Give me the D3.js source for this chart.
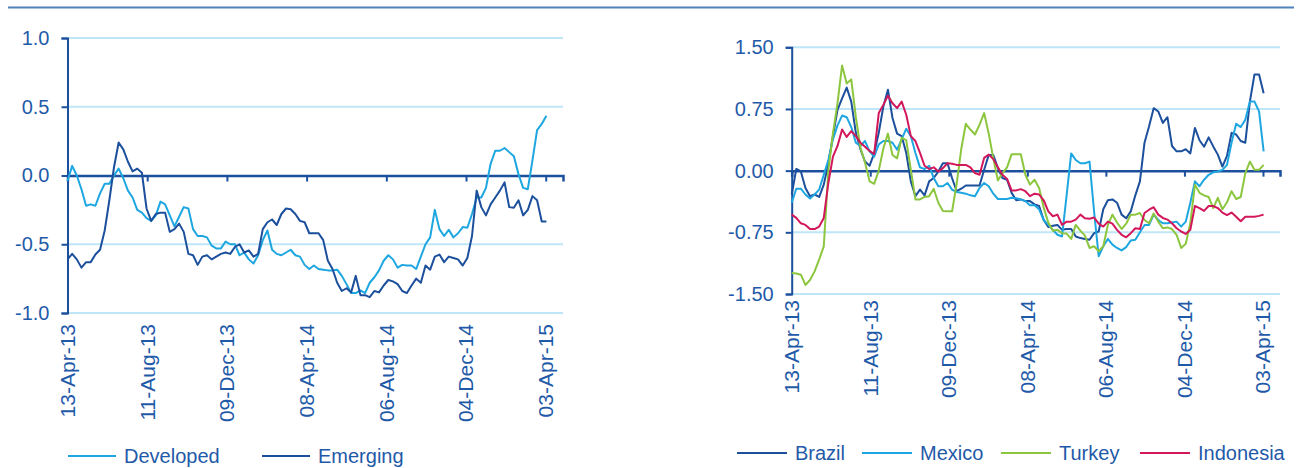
<!DOCTYPE html>
<html>
<head>
<meta charset="utf-8">
<script src="https://cdn.jsdelivr.net/npm/d3@7"></script>
<style>
body{margin:0;background:#fff;}
text{font-family:Arial,"Liberation Sans",sans-serif;fill:#1f5aa8;}
</style>
</head>
<body>
<svg id="chart" width="1301" height="468"></svg>
<script>
// weekly observations, first one on 13-Apr-13
var firstWeek = "13-Apr-13";
var dateTicks = ["13-Apr-13","11-Aug-13","09-Dec-13","08-Apr-14","06-Aug-14","04-Dec-14","03-Apr-15"];

var developed = [-0.04,0.07,0.00,-0.10,-0.22,-0.21,-0.22,-0.13,-0.06,-0.06,0.00,0.05,-0.02,-0.11,-0.16,-0.25,-0.27,-0.31,-0.33,-0.29,
  -0.19,-0.21,-0.29,-0.37,-0.30,-0.23,-0.24,-0.39,-0.44,-0.44,-0.45,-0.51,-0.53,-0.53,-0.48,-0.50,-0.50,-0.58,-0.56,-0.61,
  -0.64,-0.58,-0.47,-0.40,-0.54,-0.57,-0.58,-0.56,-0.54,-0.58,-0.59,-0.65,-0.68,-0.655,-0.68,-0.685,-0.69,-0.69,-0.685,-0.73,
  -0.79,-0.855,-0.855,-0.835,-0.855,-0.78,-0.74,-0.69,-0.62,-0.58,-0.61,-0.67,-0.65,-0.655,-0.655,-0.68,-0.59,-0.50,-0.45,-0.25,
  -0.39,-0.44,-0.395,-0.45,-0.42,-0.375,-0.38,-0.28,-0.16,-0.16,-0.09,0.085,0.18,0.18,0.20,0.17,0.14,0.01,-0.09,-0.10,
  0.11,0.33,0.375,0.435];
var emerging = [-0.61,-0.57,-0.61,-0.67,-0.63,-0.63,-0.575,-0.54,-0.40,-0.18,0.06,0.24,0.19,0.10,0.03,0.05,0.02,-0.24,-0.33,-0.28,
  -0.27,-0.27,-0.41,-0.39,-0.35,-0.41,-0.57,-0.58,-0.65,-0.59,-0.58,-0.61,-0.59,-0.57,-0.56,-0.57,-0.52,-0.50,-0.56,-0.545,
  -0.59,-0.57,-0.39,-0.34,-0.32,-0.36,-0.28,-0.24,-0.245,-0.28,-0.33,-0.34,-0.42,-0.42,-0.42,-0.47,-0.62,-0.68,-0.78,-0.84,
  -0.82,-0.85,-0.73,-0.87,-0.87,-0.885,-0.84,-0.85,-0.80,-0.76,-0.77,-0.79,-0.84,-0.855,-0.80,-0.75,-0.78,-0.655,-0.685,-0.59,
  -0.575,-0.63,-0.59,-0.60,-0.61,-0.655,-0.60,-0.44,-0.11,-0.23,-0.29,-0.21,-0.16,-0.11,-0.05,-0.23,-0.235,-0.18,-0.29,-0.25,
  -0.15,-0.18,-0.335,-0.335];

var brazil = [-0.29,0.02,-0.01,-0.21,-0.31,-0.29,-0.32,-0.17,0.09,0.42,0.74,0.88,1.01,0.84,0.46,0.26,0.11,0.06,0.21,0.46,
  0.78,0.985,0.64,0.45,0.42,0.215,-0.13,-0.31,-0.23,-0.30,-0.13,-0.09,-0.01,0.09,0.09,-0.09,-0.25,-0.22,-0.18,-0.18,
  -0.18,-0.18,0.01,0.19,0.19,0.03,-0.09,-0.11,-0.27,-0.36,-0.35,-0.37,-0.37,-0.41,-0.43,-0.60,-0.685,-0.67,-0.66,-0.72,
  -0.71,-0.71,-0.80,-0.82,-0.83,-0.84,-0.76,-0.74,-0.47,-0.36,-0.35,-0.39,-0.535,-0.58,-0.495,-0.30,-0.13,0.34,0.54,0.76,
  0.72,0.58,0.65,0.30,0.235,0.235,0.26,0.21,0.52,0.37,0.29,0.405,0.295,0.195,0.05,0.18,0.46,0.44,0.36,0.34,
  0.84,1.17,1.17,0.94];
var mexico = [-0.39,-0.22,-0.22,-0.29,-0.34,-0.29,-0.23,-0.05,0.13,0.38,0.55,0.67,0.65,0.53,0.34,0.30,0.36,0.235,0.17,0.32,
  0.36,0.36,0.34,0.255,0.38,0.51,0.42,0.215,0.04,0.02,0.06,-0.09,-0.19,-0.19,-0.15,-0.23,-0.26,-0.27,-0.28,-0.30,
  -0.31,-0.21,-0.15,-0.19,-0.28,-0.345,-0.345,-0.345,-0.33,-0.335,-0.35,-0.37,-0.42,-0.42,-0.47,-0.60,-0.66,-0.72,-0.78,-0.80,
  -0.30,0.21,0.13,0.09,0.09,0.11,-0.50,-1.04,-0.92,-0.83,-0.90,-0.94,-0.97,-0.93,-0.85,-0.84,-0.75,-0.66,-0.66,-0.535,
  -0.60,-0.64,-0.64,-0.63,-0.62,-0.68,-0.62,-0.39,-0.13,-0.19,-0.11,-0.05,-0.02,-0.01,0.01,0.07,0.34,0.57,0.53,0.62,
  0.84,0.84,0.72,0.235];
var turkey = [-1.245,-1.25,-1.265,-1.39,-1.33,-1.225,-1.08,-0.92,0.00,0.45,0.82,1.28,1.06,1.11,0.65,0.28,0.10,-0.13,-0.16,0.00,
  0.27,0.45,0.19,0.15,0.40,0.37,0.01,-0.35,-0.35,-0.32,-0.31,-0.22,-0.39,-0.49,-0.495,-0.495,-0.16,0.26,0.57,0.50,
  0.44,0.56,0.70,0.45,0.15,-0.12,-0.03,0.04,0.20,0.20,0.20,-0.05,-0.17,-0.11,-0.21,-0.45,-0.63,-0.73,-0.72,-0.76,
  -0.765,-0.83,-0.66,-0.73,-0.79,-0.94,-0.92,-0.98,-0.92,-0.66,-0.535,-0.63,-0.71,-0.645,-0.535,-0.535,-0.515,-0.60,-0.64,-0.52,
  -0.62,-0.70,-0.69,-0.71,-0.78,-0.94,-0.89,-0.64,-0.17,-0.27,-0.30,-0.32,-0.455,-0.33,-0.47,-0.385,-0.25,-0.345,-0.32,-0.03,
  0.11,0.01,0.01,0.07];
var indonesia = [-0.535,-0.575,-0.64,-0.66,-0.71,-0.71,-0.68,-0.575,-0.15,0.17,0.30,0.50,0.41,0.48,0.42,0.34,0.29,0.24,0.20,0.70,
  0.80,0.91,0.82,0.76,0.84,0.68,0.42,0.36,0.215,0.06,0.02,0.04,-0.01,0.03,0.09,0.085,0.07,0.07,0.07,0.04,
  -0.03,-0.05,0.155,0.195,0.14,0.04,-0.05,-0.10,-0.24,-0.24,-0.225,-0.25,-0.31,-0.28,-0.29,-0.36,-0.495,-0.555,-0.535,-0.66,
  -0.62,-0.62,-0.595,-0.535,-0.58,-0.585,-0.57,-0.645,-0.68,-0.62,-0.645,-0.72,-0.78,-0.81,-0.76,-0.70,-0.71,-0.515,-0.475,-0.445,
  -0.535,-0.575,-0.595,-0.64,-0.70,-0.74,-0.77,-0.72,-0.43,-0.455,-0.49,-0.43,-0.43,-0.455,-0.51,-0.54,-0.51,-0.56,-0.615,-0.56,
  -0.56,-0.56,-0.55,-0.535];

var leftTicks = [-1.0,-0.5,0.0,0.5,1.0];
var rightTicks = [-1.5,-0.75,0.0,0.75,1.5];

var dark = "#1c4f9c", light = "#1da6e0", green = "#8cc63f", crimson = "#d3175b";
var textBlue = "#1f5aa8", gridBlue = "#bfe6f7";

var parseDay = d3.utcParse("%d-%b-%y");
var t0 = parseDay(firstWeek);
var weekDates = developed.map(function(d,i){ return d3.utcDay.offset(t0, 7*i); });
var tickDates = dateTicks.map(function(s){ return parseDay(s); });
var xEnd = d3.utcDay.offset(tickDates[tickDates.length-1], 26);

var svg = d3.select("#chart");

// header rule
svg.append("line")
	.attr("x1",8).attr("x2",1294).attr("y1",7.5).attr("y2",7.5)
	.attr("stroke","#4f81bd").attr("stroke-width",2);

function drawPanel(opts){
	var x = d3.scaleUtc().domain([t0, xEnd]).range([opts.left, opts.right]);
	var y = d3.scaleLinear().domain(opts.yDomain).range([opts.bottom, opts.top]);
	var g = svg.append("g");

	// gridlines
	g.selectAll("line.grid").data(opts.yTicks.filter(function(v){return v!==0;}))
		.enter().append("line")
		.attr("class","grid")
		.attr("x1",opts.left).attr("x2",opts.right)
		.attr("y1",function(d){return y(d);}).attr("y2",function(d){return y(d);})
		.attr("stroke",gridBlue).attr("stroke-width",2);

	// y axis
	var yAxis = d3.axisLeft(y).tickValues(opts.yTicks).tickSize(6).tickPadding(12)
		.tickFormat(d3.format(opts.yFormat));
	var ya = g.append("g").attr("transform","translate("+opts.left+",0)").call(yAxis);
	ya.select(".domain").attr("stroke",dark).attr("stroke-width",2);
	ya.selectAll(".tick line").attr("stroke",dark).attr("stroke-width",2);
	ya.selectAll(".tick text")
		.style("font-size","20px").attr("fill",textBlue)
		.text(function(d){ return d3.format(opts.yFormat)(d).replace("\u2212","-"); });

	// zero line with date ticks
	var xAxis = d3.axisBottom(x).tickValues(tickDates).tickSize(6).tickFormat("");
	var xa = g.append("g").attr("transform","translate(0,"+y(0)+")").call(xAxis);
	xa.select(".domain").attr("stroke",dark).attr("stroke-width",2.5);
	xa.selectAll(".tick line").attr("stroke",dark).attr("stroke-width",2);

	// rotated date labels
	g.selectAll("text.date").data(tickDates)
		.enter().append("text")
		.attr("class","date")
		.attr("transform",function(d){return "translate("+x(d)+","+opts.labelTop+") rotate(-90)";})
		.attr("text-anchor","end")
		.attr("dy","0.35em")
		.style("font-size","21px")
		.text(function(d){return d3.utcFormat("%d-%b-%y")(d);});

	// series
	var line = d3.line()
		.x(function(d,i){return x(weekDates[i]);})
		.y(function(d){return y(d);});
	opts.series.forEach(function(s){
		g.append("path").datum(s.values)
			.attr("fill","none").attr("stroke",s.color)
			.attr("stroke-width",2).attr("stroke-linejoin","round")
			.attr("d",line);
	});

	// legend
	var lg = g.selectAll("g.legend").data(opts.series)
		.enter().append("g").attr("class","legend")
		.attr("transform",function(d,i){return "translate("+opts.legendX[i]+","+opts.legendY+")";});
	lg.append("line").attr("x1",0).attr("x2",opts.legendLine)
		.attr("y1",0).attr("y2",0)
		.attr("stroke",function(d){return d.color;}).attr("stroke-width",2);
	lg.append("text").attr("x",opts.legendLine+8).attr("dy","0.36em")
		.style("font-size","20px")
		.text(function(d){return d.name;});
}

drawPanel({
	left:67.5, right:563, top:38, bottom:313,
	yDomain:[-1,1], yTicks:leftTicks, yFormat:".1f",
	labelTop:324,
	series:[{name:"Developed",values:developed,color:light},{name:"Emerging",values:emerging,color:dark}],
	legendX:[68,262], legendY:456, legendLine:48
});

drawPanel({
	left:791.7, right:1280, top:47.3, bottom:294,
	yDomain:[-1.5,1.5], yTicks:rightTicks, yFormat:".2f",
	labelTop:300,
	series:[{name:"Brazil",values:brazil,color:dark},{name:"Mexico",values:mexico,color:light},
		{name:"Turkey",values:turkey,color:green},{name:"Indonesia",values:indonesia,color:crimson}],
	legendX:[737,862,1001,1140], legendY:453, legendLine:50
});
</script>
</body>
</html>
